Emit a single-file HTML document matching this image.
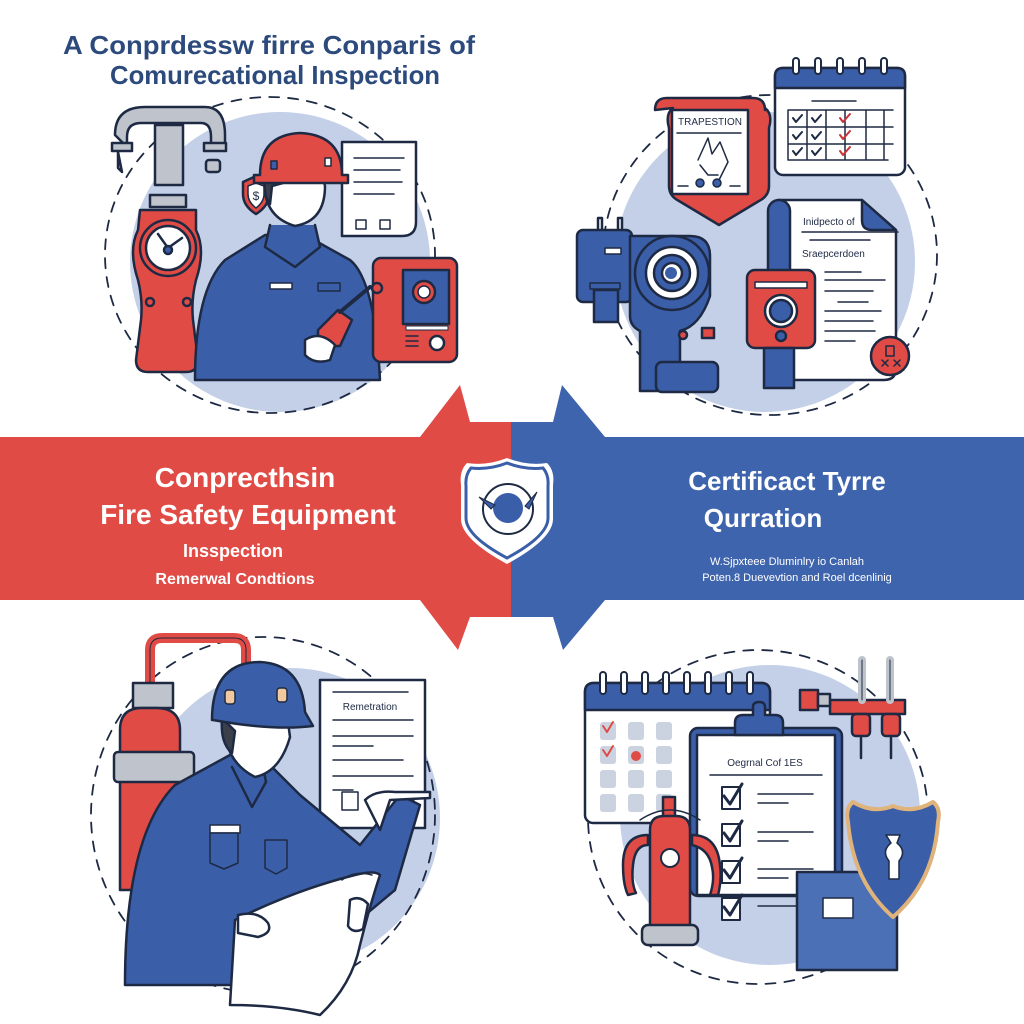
<!DOCTYPE html>
<html><head><meta charset="utf-8"><style>
html,body{margin:0;padding:0;background:#fff}
svg{display:block}
text{font-family:"Liberation Sans",sans-serif}
</style></head><body>
<svg width="1024" height="1024" viewBox="0 0 1024 1024" xmlns="http://www.w3.org/2000/svg">
<rect width="1024" height="1024" fill="#fff"/>
<!-- title -->
<text x="63" y="54" font-size="26" font-weight="bold" fill="#2c4a7c" textLength="412" lengthAdjust="spacingAndGlyphs">A Conprdessw firre Conparis of</text>
<text x="110" y="84" font-size="26" font-weight="bold" fill="#2c4a7c" textLength="330" lengthAdjust="spacingAndGlyphs">Comurecational Inspection</text>

<g stroke="#1e2a44" stroke-width="2.5" stroke-linejoin="round" stroke-linecap="round">
<!-- ===== TOP LEFT ===== -->
<circle cx="280" cy="262" r="150" fill="#c3d0e8" stroke="none"/>
<ellipse cx="270" cy="255" rx="165" ry="158" fill="none" stroke-dasharray="10 9" stroke-width="1.8"/>
<rect x="155" y="125" width="28" height="60" fill="#bfc4cc"/>
<path d="M115 135 q0-28 30-28 h60 q20 0 20 28 v10 h-14 v-8 q0-14-10-14 h-60 q-14 0-14 14 v10 z" fill="#bfc4cc"/>
<rect x="112" y="143" width="20" height="8" fill="#bfc4cc"/>
<rect x="204" y="143" width="22" height="8" fill="#bfc4cc"/>
<path d="M118 152 l4 20 l-4 -4z" fill="#bfc4cc"/>
<rect x="206" y="160" width="14" height="12" rx="3" fill="#bfc4cc"/>
<rect x="150" y="195" width="36" height="12" fill="#bfc4cc"/>
<path d="M140 210 h56 v20 q10 20 0 50 q-5 20 -3 40 l5 40 q0 12 -12 12 h-38 q-12 0-12-12 l5-40 q2-20 -3-40 q-10-30 0-50 z" fill="#e14b45"/>
<circle cx="168" cy="248" r="28" fill="#e14b45"/>
<circle cx="168" cy="248" r="22" fill="#fff"/>
<path d="M168 248 l-10-14 M168 248 l14-10" fill="none"/>
<circle cx="168" cy="250" r="4" fill="#3a5ea8"/>
<circle cx="150" cy="302" r="4" fill="#e14b45"/><circle cx="187" cy="302" r="4" fill="#e14b45"/>
<path d="M243 182 l13 -6 l13 6 v12 q0 12 -13 20 q-13-8-13-20z" fill="#e14b45"/>
<path d="M248 186 l8-3 l8 3 v8 q0 8-8 14 q-8-6-8-14z" fill="#fff" stroke-width="1.5"/>
<text x="256" y="200" text-anchor="middle" font-size="12" fill="#1e2a44" stroke="none">$</text>
<path d="M342 142 h74 v80 q0 14-14 14 h-60z" fill="#fff"/>
<path d="M354 158 h50 M354 170 h46 M354 182 h48 M354 194 h40" fill="none" stroke-width="1.5"/>
<rect x="356" y="220" width="10" height="9" fill="#fff" stroke-width="1.5"/><rect x="380" y="220" width="10" height="9" fill="#fff" stroke-width="1.5"/>
<path d="M195 380 q0-90 30-120 l40-25 l40 0 l45 25 q25 20 30 120 z" fill="#3a5ea8"/>
<path d="M270 225 l-5 22 l30 20 l25-20 l-5-22" fill="#3a5ea8"/>
<path d="M265 176 q-4 40 30 50 q30-5 30-40 l-5-20 q-25-10-55 10z" fill="#fff"/>
<path d="M265 176 q-2 20 5 28 l2-18 q20-5 48-15 l4-15 z" fill="#3b3f4a"/>
<path d="M260 175 q0-40 40-42 q42 2 42 42 h6 v8 h-94 v-8z" fill="#e14b45"/>
<rect x="271" y="161" width="6" height="8" fill="#3a5ea8" stroke-width="1.5"/>
<rect x="325" y="158" width="6" height="8" fill="#fff" stroke-width="1.5"/>
<rect x="270" y="283" width="22" height="6" fill="#fff" stroke-width="1.5"/>
<rect x="318" y="283" width="22" height="8" fill="#3a5ea8" stroke-width="1.5"/>
<path d="M318 330 l20-20 l14 10 l-12 26 h-22z" fill="#e14b45"/>
<path d="M340 312 l30-25" fill="none" stroke-width="4"/>
<path d="M305 340 q15-10 30 5 l-5 15 q-15 5-25-5z" fill="#fff"/>
<rect x="373" y="258" width="84" height="104" rx="8" fill="#e14b45"/>
<rect x="403" y="270" width="46" height="54" fill="#3a5ea8"/>
<circle cx="424" cy="292" r="11" fill="#e14b45"/><circle cx="424" cy="292" r="6" fill="#fff" stroke-width="1.5"/>
<rect x="406" y="326" width="42" height="4" fill="#fff" stroke-width="1"/>
<path d="M406 336 h12 M406 341 h12 M406 346 h12" fill="none" stroke-width="1.5"/>
<circle cx="437" cy="343" r="7" fill="#fff"/>
<circle cx="377" cy="288" r="5" fill="#e14b45"/>

<!-- ===== TOP RIGHT ===== -->
<circle cx="765" cy="262" r="150" fill="#c3d0e8" stroke="none"/>
<ellipse cx="770" cy="255" rx="167" ry="160" fill="none" stroke-dasharray="10 9" stroke-width="1.8"/>
<path d="M655 110 q0-12 12-12 h86 q12 0 12 12 v-2 q8 6 4 20 v58 q0 10 -10 15 l-40 24 l-40-24 q-10-5-10-15 v-58 q-4-14 4-20z" fill="#e14b45"/>
<rect x="672" y="110" width="76" height="84" fill="#fff"/>
<text x="710" y="125" text-anchor="middle" font-size="10" fill="#1e2a44" stroke="none">TRAPESTION</text>
<path d="M677 133 h64 M678 186 h10 M730 186 h10" fill="none" stroke-width="1.5"/>
<path d="M698 160 l10-22 l4 16 l8-12 l8 20 l-10 20 M700 165 l8 10 l10 0" fill="none" stroke-width="1.5"/>
<circle cx="700" cy="183" r="4" fill="#3a5ea8" stroke-width="1.5"/><circle cx="717" cy="183" r="4" fill="#3a5ea8" stroke-width="1.5"/>
<rect x="775" y="68" width="130" height="107" rx="8" fill="#fff"/>
<path d="M775 88 v-12 q0-8 8-8 h114 q8 0 8 8 v12z" fill="#3a5ea8"/>
<g fill="#fff" stroke-width="2"><rect x="793" y="58" width="6" height="16" rx="3"/><rect x="815" y="58" width="6" height="16" rx="3"/><rect x="837" y="58" width="6" height="16" rx="3"/><rect x="859" y="58" width="6" height="16" rx="3"/><rect x="881" y="58" width="6" height="16" rx="3"/></g>
<path d="M812 101 h44" fill="none" stroke-width="1.5"/>
<path d="M788 110 h105 M788 127 h105 M788 144 h105 M788 160 h100 M788 110 v50 M807 110 v50 M826 110 v50 M845 110 v50 M866 110 v50 M884 110 v50" fill="none" stroke-width="1.5"/>
<path d="M793 118 l3 4 l6-7 M812 118 l3 4 l6-7 M793 135 l3 4 l6-7 M812 135 l3 4 l6-7 M793 151 l3 4 l6-7 M812 151 l3 4 l6-7" fill="none" stroke-width="2"/>
<path d="M840 118 l3 4 l7-8 M840 135 l3 4 l7-8 M840 151 l3 4 l7-8" fill="none" stroke="#c8333a" stroke-width="2"/>
<path d="M778 200 h84 l34 30 v138 q0 12-12 12 h-110 z" fill="#fff"/>
<path d="M862 200 v20 q0 10 10 10 h24z" fill="#3a5ea8"/>
<rect x="768" y="200" width="22" height="175" rx="11" fill="#3a5ea8"/>
<text x="803" y="225" font-size="10" fill="#1e2a44" stroke="none">Inidpecto of</text>
<text x="802" y="257" font-size="10" fill="#1e2a44" stroke="none">Sraepcerdoen</text>
<path d="M802 232 h96 M810 240 h60 M825 272 h36 M825 280 h60 M825 291 h48 M838 302 h30 M825 311 h56 M825 321 h48 M825 331 h50 M825 341 h30" fill="none" stroke-width="1.5"/>
<circle cx="890" cy="356" r="19" fill="#e14b45"/>
<path d="M886 346 h8 v10 h-8z M882 360 l6 6 M882 366 l6-6 M894 360 l6 6 M894 366 l6-6" fill="none" stroke-width="1.5"/>
<rect x="598" y="218" width="4" height="14" fill="#fff"/><rect x="618" y="218" width="4" height="14" fill="#fff"/>
<rect x="577" y="230" width="55" height="72" rx="6" fill="#3a5ea8"/>
<path d="M630 236 h60 q20 0 20 20 v40 q-10 30-30 35 v60 h-40 v-60 q-10-5-10-15z" fill="#3a5ea8"/>
<circle cx="672" cy="273" r="37" fill="#3a5ea8"/>
<circle cx="672" cy="273" r="26" fill="#fff"/>
<circle cx="672" cy="273" r="18" fill="#3a5ea8"/>
<circle cx="672" cy="273" r="10" fill="#fff"/>
<circle cx="671" cy="273" r="6" fill="#3a5ea8" stroke="none"/>
<rect x="605" y="248" width="16" height="6" fill="#fff" stroke-width="1.5"/>
<rect x="590" y="283" width="30" height="6" fill="#3a5ea8" stroke-width="1.5"/>
<rect x="594" y="290" width="24" height="32" fill="#3a5ea8"/>
<rect x="656" y="362" width="62" height="30" rx="6" fill="#3a5ea8"/>
<circle cx="683" cy="335" r="4" fill="#e14b45"/>
<rect x="702" y="328" width="12" height="10" fill="#e14b45"/>
<rect x="747" y="270" width="68" height="78" rx="8" fill="#e14b45"/>
<rect x="755" y="282" width="52" height="6" fill="#fff" stroke-width="1.5"/>
<circle cx="781" cy="311" r="16" fill="#fff"/><circle cx="781" cy="311" r="11" fill="#3a5ea8"/>
<circle cx="781" cy="336" r="5" fill="#3a5ea8"/>
<rect x="764" y="348" width="30" height="40" fill="#3a5ea8"/>
</g>

<!-- ===== CENTER BAND ===== -->
<path d="M0 437 H420 L460 385 L470 422 H511 V617 H470 L458 650 L420 600 H0 Z" fill="#e14b45"/>
<path d="M511 422 H553 L562 385 L605 437 H1024 V600 H605 L563 650 L553 617 H511 Z" fill="#3e64ad"/>
<text x="245" y="487" text-anchor="middle" font-size="28" font-weight="bold" fill="#fff">Conprecthsin</text>
<text x="248" y="524" text-anchor="middle" font-size="28" font-weight="bold" fill="#fff">Fire Safety Equipment</text>
<text x="233" y="557" text-anchor="middle" font-size="18" font-weight="bold" fill="#fff">Insspection</text>
<text x="235" y="584" text-anchor="middle" font-size="16" font-weight="bold" fill="#fff">Remerwal Condtions</text>
<text x="787" y="490" text-anchor="middle" font-size="26" font-weight="bold" fill="#fff">Certificact Tyrre</text>
<text x="763" y="527" text-anchor="middle" font-size="26" font-weight="bold" fill="#fff">Qurration</text>
<text x="787" y="565" text-anchor="middle" font-size="11" fill="#fff">W.Sjpxteee Dluminlry io Canlah</text>
<text x="797" y="581" text-anchor="middle" font-size="11" fill="#fff">Poten.8 Duevevtion and Roel dcenlinig</text>
<path d="M507 458 q20 8 40 5 q8 8 6 22 v34 q0 20-46 45 q-46-25-46-45 v-34 q-2-14 6-22 q20 3 40-5z" fill="#fff"/>
<path d="M507 463 q18 7 36 5 q6 7 5 18 v32 q0 18-41 40 q-41-22-41-40 v-32 q-1-11 5-18 q18 2 36-5z" fill="none" stroke="#3a5ea8" stroke-width="3"/>
<circle cx="508" cy="509" r="25" fill="#fff" stroke="#1e2a44" stroke-width="2"/>
<circle cx="508" cy="508" r="15" fill="#3a5ea8"/>
<path d="M479 497 l16 8 l-4 4z M537 492 l-12 14 l4 3z" fill="#3a5ea8" stroke="#1e2a44" stroke-width="1"/>

<g stroke="#1e2a44" stroke-width="2.5" stroke-linejoin="round" stroke-linecap="round">
<!-- ===== BOTTOM LEFT ===== -->
<circle cx="290" cy="818" r="150" fill="#c3d0e8" stroke="none"/>
<ellipse cx="263" cy="815" rx="172" ry="178" fill="none" stroke-dasharray="10 9" stroke-width="1.8"/>
<path d="M150 690 v-40 q0-12 12-12 h72 q12 0 12 12 v40" fill="none" stroke="#e14b45" stroke-width="10"/>
<path d="M150 690 v-40 q0-12 12-12 h72 q12 0 12 12 v40" fill="none" stroke-width="1"/>
<rect x="133" y="683" width="40" height="25" fill="#bfc4cc"/>
<path d="M120 730 q0-22 22-22 h14 q24 0 24 22 v160 h-60z" fill="#e14b45"/>
<rect x="114" y="752" width="80" height="30" rx="4" fill="#bfc4cc"/>
<rect x="320" y="680" width="105" height="148" fill="#fff"/>
<text x="370" y="710" text-anchor="middle" font-size="10" fill="#1e2a44" stroke="none">Remetration</text>
<path d="M333 692 h75 M333 720 h80 M333 736 h80 M333 746 h40 M333 760 h70 M333 776 h80 M333 790 h20 M378 800 h36" fill="none" stroke-width="1.5"/>
<rect x="342" y="792" width="16" height="18" fill="#fff" stroke-width="1.5"/>
<path d="M125 985 q0-150 50-200 l55-30 h30 l40 40 l60 50 l40-50 l20 10 l-25 85 l-60 50 v45 z" fill="#3a5ea8"/>
<path d="M232 767 l20 40 l14-25 l-4-20" fill="#3a5ea8"/>
<path d="M225 715 q-4 45 30 62 q25-5 35-40 l-4-30 q-30-12-60 8z" fill="#fff"/>
<path d="M222 718 q-2 25 10 35 l3-22 q-10-10 -13-13z" fill="#3b3f4a"/>
<path d="M212 720 q0-58 48-58 q42 2 45 50 l8 14 q-40 5-100 -6z" fill="#3a5ea8"/>
<rect x="225" y="690" width="10" height="14" rx="3" fill="#f0c9a0" stroke-width="1.5"/>
<rect x="277" y="688" width="10" height="14" rx="3" fill="#f0c9a0" stroke-width="1.5"/>
<rect x="210" y="825" width="30" height="8" fill="#fff" stroke-width="1.5"/>
<path d="M210 833 h28 v30 l-14 6 l-14-6z M265 840 h22 v28 l-11 6 l-11-6z" fill="#3a5ea8" stroke-width="1.5"/>
<path d="M365 800 q10-10 30-8 l35 0 v6 l-40 2 l-10 30 z" fill="#fff"/>
<path d="M235 920 q60-30 120-45 q20-5 25 0 q-10 30-20 70 q-8 40-40 70 q-40-10-90-10z" fill="#fff"/>
<path d="M342 880 q12-10 30-5" fill="none" stroke-width="1.5"/>
<path d="M238 915 q20-5 30 8 q5 10-10 14 l-20-4z" fill="#fff"/>
<path d="M350 900 q10-5 18 4 l-5 25 q-10 5-15-3z" fill="#fff"/>

<!-- ===== BOTTOM RIGHT ===== -->
<circle cx="770" cy="815" r="150" fill="#c3d0e8" stroke="none"/>
<ellipse cx="758" cy="817" rx="170" ry="167" fill="none" stroke-dasharray="10 9" stroke-width="1.8"/>
<rect x="585" y="683" width="185" height="140" rx="8" fill="#fff"/>
<path d="M585 710 v-18 q0-9 9-9 h167 q9 0 9 9 v18z" fill="#3a5ea8"/>
<g fill="#fff" stroke-width="2"><rect x="600" y="672" width="6" height="22" rx="3"/><rect x="621" y="672" width="6" height="22" rx="3"/><rect x="642" y="672" width="6" height="22" rx="3"/><rect x="663" y="672" width="6" height="22" rx="3"/><rect x="684" y="672" width="6" height="22" rx="3"/><rect x="705" y="672" width="6" height="22" rx="3"/><rect x="726" y="672" width="6" height="22" rx="3"/><rect x="747" y="672" width="6" height="22" rx="3"/></g>
<g fill="#ccd3e0" stroke="none"><rect x="600" y="722" width="16" height="18" rx="3"/><rect x="628" y="722" width="16" height="18" rx="3"/><rect x="656" y="722" width="16" height="18" rx="3"/><rect x="600" y="746" width="16" height="18" rx="3"/><rect x="628" y="746" width="16" height="18" rx="3"/><rect x="656" y="746" width="16" height="18" rx="3"/><rect x="600" y="770" width="16" height="18" rx="3"/><rect x="628" y="770" width="16" height="18" rx="3"/><rect x="656" y="770" width="16" height="18" rx="3"/><rect x="600" y="794" width="16" height="18" rx="3"/><rect x="628" y="794" width="16" height="18" rx="3"/><rect x="656" y="794" width="16" height="18" rx="3"/></g>
<path d="M603 726 l4 6 l6-10 M603 750 l4 6 l6-10" fill="none" stroke="#e14b45" stroke-width="2"/>
<circle cx="636" cy="756" r="5" fill="#e14b45" stroke="none"/>
<rect x="690" y="728" width="152" height="168" rx="8" fill="#3a5ea8"/>
<rect x="697" y="735" width="138" height="160" fill="#fff"/>
<path d="M735 735 v-12 q0-8 8-8 h10 v-8 q0-5 6-5 q6 0 6 5 v8 h10 q8 0 8 8 v12z" fill="#3a5ea8"/>
<text x="765" y="766" text-anchor="middle" font-size="10" fill="#1e2a44" stroke="none">Oegrnal Cof 1ES</text>
<path d="M710 775 h112 M758 794 h55 M758 803 h30 M758 832 h55 M758 841 h30 M758 869 h55 M758 878 h30 M758 906 h45" fill="none" stroke-width="1.5"/>
<g fill="#fff" stroke-width="2"><rect x="722" y="787" width="18" height="22"/><rect x="722" y="824" width="18" height="22"/><rect x="722" y="861" width="18" height="22"/><rect x="722" y="898" width="18" height="22"/></g>
<path d="M724 796 l6 8 l12-20 M724 833 l6 8 l12-20 M724 870 l6 8 l12-20 M724 907 l6 8 l12-20" fill="none" stroke-width="3"/>
<rect x="663" y="797" width="12" height="20" fill="#e14b45"/>
<path d="M650 830 q0-14 14-14 h12 q14 0 14 14 v100 h-40z" fill="#e14b45"/>
<path d="M648 835 q-25 0-25 30 q0 20 5 30 l8-2 q-5-10-3-28 q2-20 15-20z M692 835 q25 0 28 30 q2 15-2 30 h-8 q5-15 2-28 q-3-18-20-22z" fill="#e14b45"/>
<circle cx="670" cy="858" r="9" fill="#fff" stroke-width="2"/>
<rect x="642" y="925" width="56" height="20" rx="6" fill="#bfc4cc"/>
<path d="M640 820 q30-20 60 0" fill="none" stroke-width="1.5"/>
<rect x="797" y="872" width="100" height="98" fill="#4c70b5"/>
<rect x="823" y="898" width="30" height="20" fill="#fff" stroke-width="1.5"/>
<path d="M893 806 q20 8 40-4 q8 6 5 20 q-4 60 -45 95 q-40-35-45-95 q-3-14 5-20 q20 12 40 4z" fill="#3a5ea8" stroke="#e0b37a" stroke-width="4"/>
<path d="M886 835 h14 l-3 8 q10 8 2 18 v18 h-10 v-18 q-8-10 2-18z" fill="#fff" stroke-width="1.5"/>
<rect x="830" y="700" width="75" height="14" fill="#e14b45"/>
<rect x="800" y="690" width="18" height="20" fill="#e14b45"/>
<rect x="818" y="694" width="12" height="12" fill="#bfc4cc"/>
<path d="M862 660 v40 M890 660 v40" fill="none" stroke="#bfc4cc" stroke-width="8"/>
<path d="M862 660 v40 M890 660 v40" fill="none" stroke-width="1"/>
<rect x="852" y="714" width="18" height="22" rx="4" fill="#e14b45"/>
<rect x="882" y="714" width="18" height="22" rx="4" fill="#e14b45"/>
<path d="M861 736 v22 M891 736 v22" fill="none"/>
</g>
</svg>
</body></html>
